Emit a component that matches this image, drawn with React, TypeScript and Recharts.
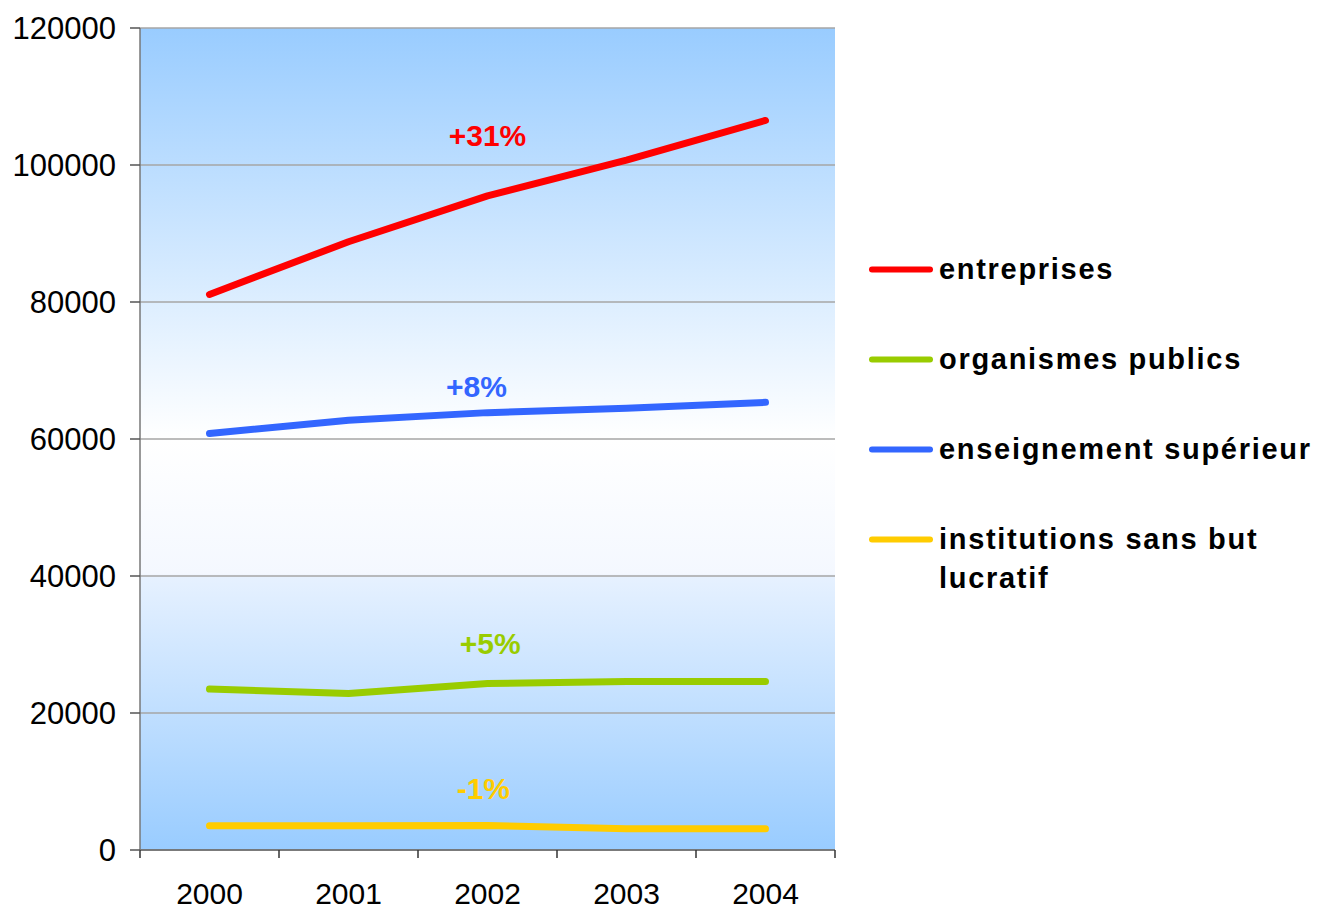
import React from "react"
import {
  LineChart,
  Line,
  XAxis,
  YAxis,
  CartesianGrid,
  Legend,
  ReferenceDot,
} from "recharts"

const years = ["2000", "2001", "2002", "2003", "2004"]
const entreprises = [81100, 88800, 95500, 100700, 106500]
const organismes = [23500, 22850, 24300, 24600, 24600]
const enseignement = [60800, 62750, 63850, 64500, 65350]
const institutions = [3550, 3550, 3580, 3110, 3110]
const yTicks = [0, 20000, 40000, 60000, 80000, 100000, 120000]

// growth labels: position in category index / value units
const notes = [
  { text: "+31%", x: 2, y: 104400, color: "#FF0000" },
  { text: "+8%", x: 1.92, y: 67700, color: "#3366FF" },
  { text: "+5%", x: 2.02, y: 30100, color: "#99CC00" },
  { text: "-1%", x: 1.97, y: 9000, color: "#FFCC00" },
]

const series = [
  { key: "entreprises", name: "entreprises", color: "#FF0000", values: entreprises },
  { key: "organismes", name: "organismes publics", color: "#99CC00", values: organismes },
  { key: "enseignement", name: "enseignement supérieur", color: "#3366FF", values: enseignement },
  { key: "institutions", name: "institutions sans but lucratif", color: "#FFCC00", values: institutions },
]

const data = years.map((y, i) => {
  const row: Record<string, number | string> = { idx: i, year: y }
  series.forEach((s) => (row[s.key] = s.values[i]))
  return row
})

const boundaries = [-0.5, 0.5, 1.5, 2.5, 3.5, 4.5]
const font = "'Liberation Sans', Arial, sans-serif"

function LegendBox({ payload }: any) {
  // keep the series order instead of the alphabetical one
  const items = series
    .map((s) => (payload || []).find((p: any) => p.dataKey === s.key))
    .filter(Boolean)
  return (
    <div style={{ fontFamily: font }}>
      {items.map((p: any) => (
        <div key={p.value} style={{ display: "flex", alignItems: "flex-start", marginBottom: 51 }}>
          <svg width={73} height={39} style={{ flexShrink: 0 }}>
            <line x1={6} x2={64} y1={19.5} y2={19.5} stroke={p.color} strokeWidth={6} strokeLinecap="round" />
          </svg>
          <span
            style={{
              width: 385,
              fontSize: 29,
              fontWeight: "bold",
              letterSpacing: 1.7,
              lineHeight: "39px",
              color: "#000",
            }}
          >
            {p.value}
          </span>
        </div>
      ))}
    </div>
  )
}

export default function App() {
  return (
    <div style={{ position: "absolute", left: 0, top: 0, width: 1321, height: 909, background: "#fff" }}>
      <LineChart
        width={1321}
        height={909}
        data={data}
        margin={{ top: 28, right: 486, bottom: 0, left: 0 }}
        style={{ fontFamily: font }}
      >
        <defs>
          <linearGradient id="plotBg" x1="0" y1="0" x2="0" y2="1">
            <stop offset="0%" stopColor="#99CCFF" />
            <stop offset="50%" stopColor="#FFFFFF" />
            <stop offset="66.4%" stopColor="#F4F8FF" />
            <stop offset="66.8%" stopColor="#E6F1FF" />
            <stop offset="100%" stopColor="#99CCFF" />
          </linearGradient>
        </defs>
        <XAxis
          xAxisId="bounds"
          dataKey="idx"
          type="number"
          domain={[-0.5, 4.5]}
          ticks={boundaries}
          tickFormatter={() => ""}
          tickSize={8}
          height={1}
          axisLine={{ stroke: "#666", strokeWidth: 1.5 }}
          tickLine={{ stroke: "#333", strokeWidth: 1.5 }}
        />
        <XAxis
          xAxisId="labels"
          dataKey="idx"
          type="number"
          domain={[-0.5, 4.5]}
          ticks={[0, 1, 2, 3, 4]}
          tickFormatter={(v: number) => years[v]}
          axisLine={false}
          tickLine={false}
          tickSize={0}
          tickMargin={32}
          height={58}
          tick={{ fill: "#000", fontSize: 30 }}
        />
        <CartesianGrid
          xAxisId="labels"
          vertical={false}
          stroke="#A6A6A6"
          strokeWidth={1.5}
          fill="url(#plotBg)"
          fillOpacity={1}
        />
        <YAxis
          domain={[0, 120000]}
          ticks={yTicks}
          width={140}
          tickSize={10}
          tickMargin={14}
          axisLine={{ stroke: "#777", strokeWidth: 1.5 }}
          tickLine={{ stroke: "#555", strokeWidth: 1.5 }}
          tick={{ fill: "#000", fontSize: 31 }}
          interval={0}
        />
        <Legend
          layout="horizontal"
          verticalAlign="middle"
          align="center"
          wrapperStyle={{ left: 866, top: 250, width: 455 }}
          content={<LegendBox />}
        />
        {series.map((s) => (
          <Line
            key={s.key}
            xAxisId="labels"
            dataKey={s.key}
            name={s.name}
            stroke={s.color}
            strokeWidth={7}
            strokeLinecap="round"
            strokeLinejoin="round"
            dot={false}
            activeDot={false}
            isAnimationActive={false}
          />
        ))}
        {notes.map((n) => (
          <ReferenceDot
            key={n.text}
            xAxisId="labels"
            x={n.x}
            y={n.y}
            r={0}
            stroke="none"
            fill="none"
            label={{
              value: n.text,
              position: "center",
              fill: n.color,
              fontSize: 30,
              fontWeight: "bold",
            }}
          />
        ))}
      </LineChart>
    </div>
  )
}
